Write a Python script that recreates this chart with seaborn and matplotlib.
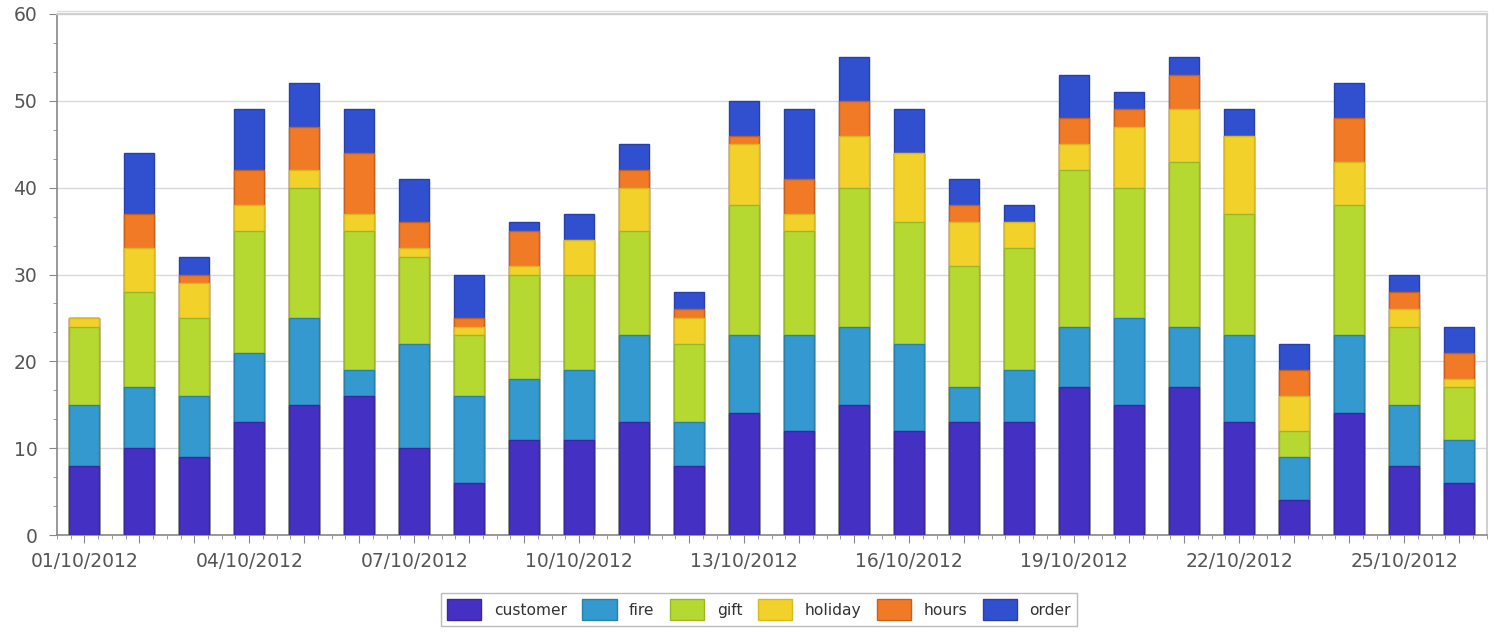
import numpy as np
import pandas as pd
import matplotlib
matplotlib.use('Agg')
import matplotlib.pyplot as plt
from matplotlib.ticker import MultipleLocator
from matplotlib.patches import Patch
import seaborn as sns

# daily counts per category, 01/10/2012 .. 26/10/2012
days = [f'{d:02d}/10/2012' for d in range(1, 27)]
customer = [8, 10, 9, 13, 15, 16, 10, 6, 11, 11, 13, 8, 14, 12, 15, 12, 13, 13, 17, 15, 17, 13, 4, 14, 8, 6]
fire = [7, 7, 7, 8, 10, 3, 12, 10, 7, 8, 10, 5, 9, 11, 9, 10, 4, 6, 7, 10, 7, 10, 5, 9, 7, 5]
gift = [9, 11, 9, 14, 15, 16, 10, 7, 12, 11, 12, 9, 15, 12, 16, 14, 14, 14, 18, 15, 19, 14, 3, 15, 9, 6]
holiday = [1, 5, 4, 3, 2, 2, 1, 1, 1, 4, 5, 3, 7, 2, 6, 8, 5, 3, 3, 7, 6, 9, 4, 5, 2, 1]
hours = [0, 4, 1, 4, 5, 7, 3, 1, 4, 0, 2, 1, 1, 4, 4, 0, 2, 0, 3, 2, 4, 0, 3, 5, 2, 3]
order = [0, 7, 2, 7, 5, 5, 5, 5, 1, 3, 3, 2, 4, 8, 5, 5, 3, 2, 5, 2, 2, 3, 3, 4, 2, 3]

series = ['customer', 'fire', 'gift', 'holiday', 'hours', 'order']
colors = ['#4530C4', '#3399CE', '#B5D930', '#F2D22A', '#F07A26', '#3050CF']
edges = ['#3A289E', '#2A80AC', '#98B828', '#D8B820', '#C8601C', '#2840A8']

df = pd.DataFrame({'day': days, 'customer': customer, 'fire': fire, 'gift': gift,
                   'holiday': holiday, 'hours': hours, 'order': order})
cum = df[series].cumsum(axis=1)

sns.set_style('white')
plt.rcParams['font.family'] = ['DejaVu Sans']

fig, ax = plt.subplots(figsize=(14.94, 6.34), dpi=100)
fig.subplots_adjust(left=0.038, right=0.995, top=0.978, bottom=0.156)

# draw stacked bars from the top segment down so each lower total covers the one above
for name, c, e in reversed(list(zip(series, colors, edges))):
    sns.barplot(x=df['day'], y=cum[name], color=c, edgecolor=e, linewidth=1,
                width=0.55, saturation=1, ax=ax, zorder=3)

ax.set_xlim(-0.5, 25.5)
ax.set_ylim(0, 60)
ax.yaxis.set_major_locator(MultipleLocator(10))
ax.yaxis.set_minor_locator(MultipleLocator(10 / 3))
ax.grid(axis='y', color='#D8D8E0', linewidth=1, zorder=0)
ax.set_axisbelow(True)

ax.set_xticks(range(len(days)))
ax.set_xticklabels([d if i % 3 == 0 else '' for i, d in enumerate(days)])
ax.xaxis.set_minor_locator(MultipleLocator(0.25))
ax.set_xlabel('')
ax.set_ylabel('')

ax.tick_params(axis='both', which='major', direction='out', length=6, color='#888888',
               labelsize=13.5, labelcolor='#555555', bottom=True, left=True)
ax.tick_params(axis='both', which='minor', direction='out', length=3, color='#888888',
               bottom=True, left=True)
ax.tick_params(axis='x', pad=6)
ax.tick_params(axis='y', pad=8)

for side in ['left', 'bottom']:
    ax.spines[side].set_color('#888888')
    ax.spines[side].set_linewidth(1.2)
for side in ['top', 'right']:
    ax.spines[side].set_color('#D0D0D0')
    ax.spines[side].set_linewidth(1.5)
# second faint line just above the top frame
ax.plot([0, 1], [1.006, 1.006], transform=ax.transAxes, color='#DCDCDC',
        linewidth=1, clip_on=False)

handles = [Patch(facecolor=c, edgecolor=e, label=n) for n, c, e in zip(series, colors, edges)]
leg = fig.legend(handles=handles, loc='lower center', bbox_to_anchor=(0.508, 0.0), ncol=6,
                 fontsize=11.2, frameon=True, fancybox=False, handlelength=2.2, handleheight=1.7,
                 handletextpad=0.8, columnspacing=1.0, borderpad=0.4)
leg.get_frame().set_edgecolor('#AAAAAA')
leg.get_frame().set_linewidth(1)
for t in leg.get_texts():
    t.set_color('#333333')

fig.savefig('out.png', dpi=100)
